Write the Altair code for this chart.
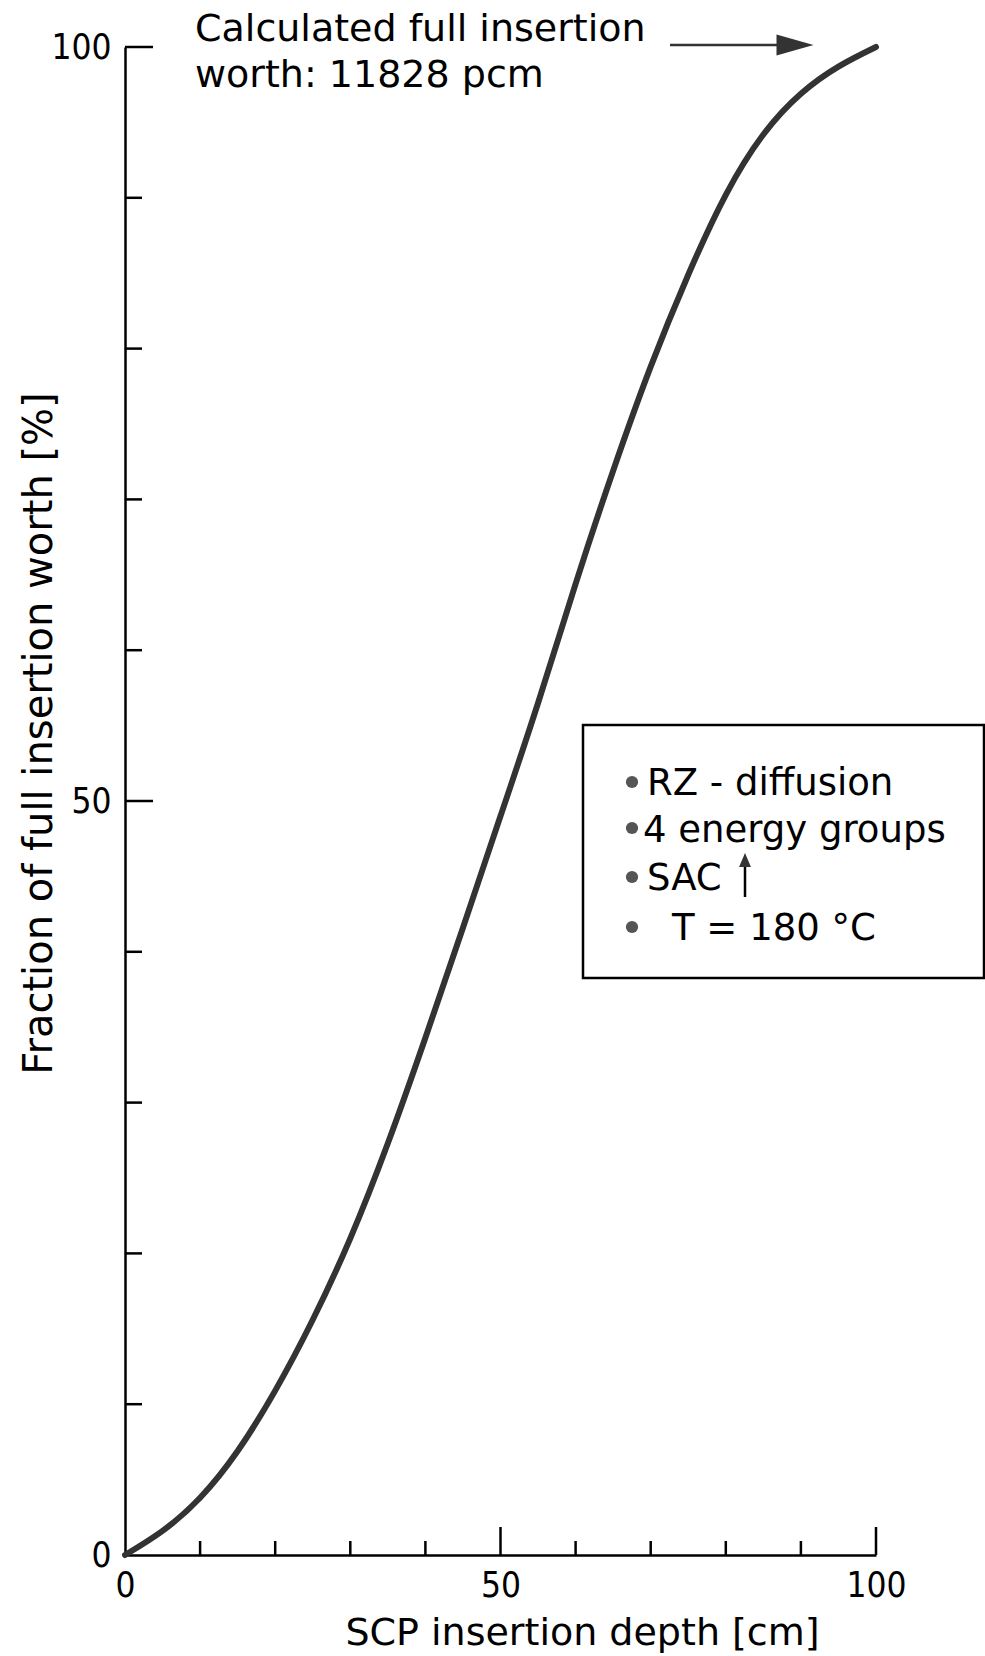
import altair as alt
import pandas as pd

# ---- data ----
depth_cm = [0, 5, 10, 15, 20, 25, 30, 35, 40, 45, 50, 55, 60, 65, 70, 75, 80, 85, 90, 95, 100]
worth_pct = [0, 1.6, 3.8, 6.9, 10.9, 15.6, 21.0, 27.3, 34.3, 41.6, 49.0, 56.5, 64.4, 71.9,
             78.8, 84.9, 90.2, 94.2, 96.9, 98.7, 100]

axis_label_values = [0, 50, 100]
y_minor_ticks = [10, 20, 30, 40, 60, 70, 80, 90]
y_major_ticks = [50, 100]
x_minor_ticks = [10, 20, 30, 40, 60, 70, 80, 90]
x_major_ticks = [50, 100]

note_lines = ["Calculated full insertion", "worth: 11828 pcm"]
legend_lines = ["RZ - diffusion", "4 energy groups", "SAC", "T = 180 °C"]

x_title = "SCP insertion depth [cm]"
y_title = "Fraction of full insertion worth [%]"

# ---- layout ----
W, H = 751, 1508
FONT = "DejaVu Sans"
NUM_FONT = "DejaVu Sans Condensed"
INK = "black"

xs = alt.Scale(domain=[0, 100], nice=False, zero=False)
ys = alt.Scale(domain=[0, 100], nice=False, zero=False)

curve_df = pd.DataFrame({"depth": depth_cm, "worth": worth_pct})

curve = alt.Chart(curve_df).mark_line(
    color="#333333", strokeWidth=6, interpolate="natural", strokeCap="round"
).encode(
    x=alt.X("depth:Q", scale=xs, axis=alt.Axis(
        values=axis_label_values, ticks=False, grid=False,
        domainColor=INK, domainWidth=2.5,
        labelFont=NUM_FONT, labelFontSize=35, labelColor=INK, labelPadding=13,
        labelFlush=False, labelOverlap=False,
        title=x_title, titleFont=FONT, titleFontSize=38, titleFontWeight="normal",
        titleColor=INK, titleX=457, titleY=89, titleAlign="center",
        titleBaseline="alphabetic")),
    y=alt.Y("worth:Q", scale=ys, axis=alt.Axis(
        values=axis_label_values, ticks=False, grid=False,
        domainColor=INK, domainWidth=2.5,
        labelFont=NUM_FONT, labelFontSize=35, labelColor=INK, labelPadding=14,
        labelFlush=False, labelOverlap=False,
        title=y_title, titleFont=FONT, titleFontSize=40, titleFontWeight="normal",
        titleColor=INK, titleAngle=270, titleX=-74, titleY=686,
        titleAlign="center", titleBaseline="alphabetic")),
)


def y_ticks(values, length):
    return alt.Chart(pd.DataFrame({"v": values})).mark_rule(
        color=INK, strokeWidth=2.5
    ).encode(y=alt.Y("v:Q", scale=ys), x=alt.value(0), x2=alt.value(length))


def x_ticks(values, length):
    return alt.Chart(pd.DataFrame({"v": values})).mark_rule(
        color=INK, strokeWidth=2.5
    ).encode(x=alt.X("v:Q", scale=xs), y=alt.value(H), y2=alt.value(H - length))


def label(txt, x, y, size=38, align="left", font=FONT):
    return alt.Chart(alt.Data(values=[{"t": txt}])).mark_text(
        align=align, baseline="alphabetic", font=font, fontSize=size, color=INK
    ).encode(text="t:N", x=alt.value(x), y=alt.value(y))


one = alt.Data(values=[{"k": 1}])

# top annotation arrow
arrow_line = alt.Chart(one).mark_rule(color="#333", strokeWidth=2.5).encode(
    x=alt.value(545), x2=alt.value(655), y=alt.value(-2))
arrow_head = alt.Chart(one).mark_point(
    shape="M-1,-0.57L1,0L-1,0.57Z", filled=True, color="#333", size=37 * 37, opacity=1
).encode(x=alt.value(670), y=alt.value(-2))

# legend box
box = alt.Chart(one).mark_rect(fill="white", stroke=INK, strokeWidth=2.5).encode(
    x=alt.value(458), x2=alt.value(859), y=alt.value(678), y2=alt.value(931))

bullet_y = [735, 781, 830, 880]
bullets = [
    alt.Chart(one).mark_point(shape="circle", filled=True, color="#555", size=150, opacity=1)
    .encode(x=alt.value(507), y=alt.value(by))
    for by in bullet_y
]

legend_x = [522, 518, 522, 547]
legend_base = [748, 795, 843, 893]
legend_texts = [label(t, lx, ly, size=37) for t, lx, ly in zip(legend_lines, legend_x, legend_base)]

sac_line = alt.Chart(one).mark_rule(color=INK, strokeWidth=2.5).encode(
    x=alt.value(620), y=alt.value(818), y2=alt.value(850))
sac_head = alt.Chart(one).mark_point(
    shape="M-0.85,1L0,-1L0.85,1Z", filled=True, color="#333", size=14 * 14, opacity=1
).encode(x=alt.value(620), y=alt.value(813))

notes = [label(note_lines[0], 70, -6), label(note_lines[1], 70, 40)]

chart = alt.layer(
    box, curve,
    y_ticks(y_minor_ticks, 17), y_ticks(y_major_ticks, 28),
    x_ticks(x_minor_ticks, 14), x_ticks(x_major_ticks, 28),
    arrow_line, arrow_head, *notes,
    *bullets, *legend_texts, sac_line, sac_head,
).properties(
    width=W, height=H,
    autosize=alt.AutoSizeParams(type="none"),
    padding={"left": 125, "top": 47, "right": 109, "bottom": 101},
    background="white",
).configure_view(stroke=None)

chart.save("out.html", embed_options={"renderer": "svg", "actions": False})
